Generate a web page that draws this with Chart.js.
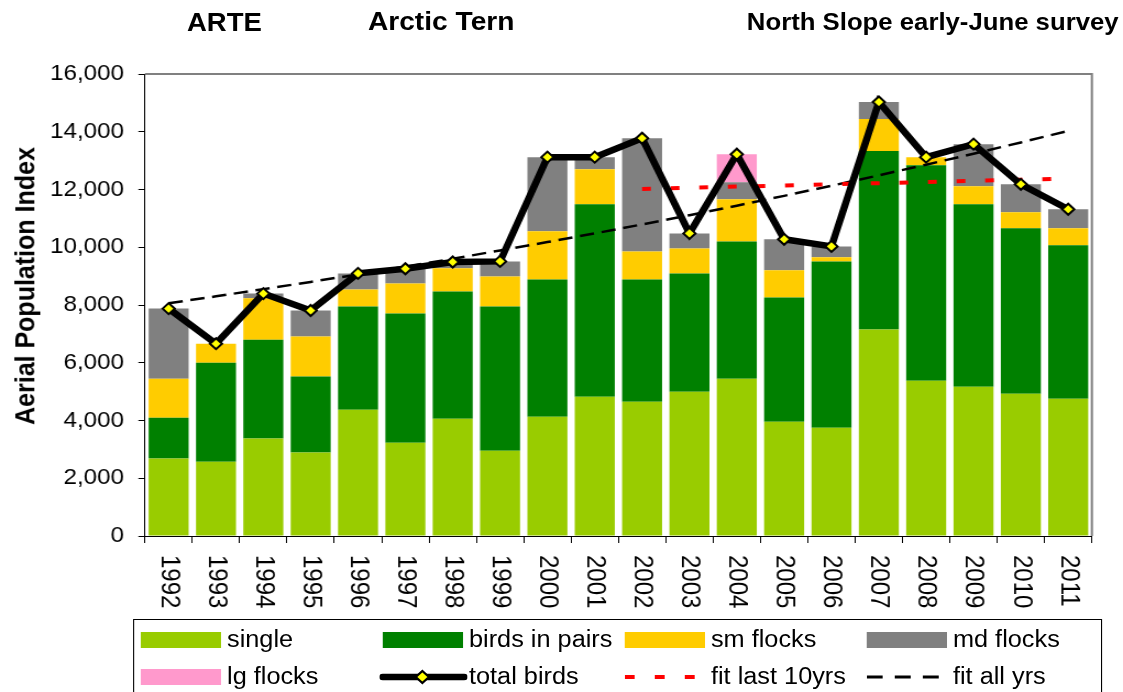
<!DOCTYPE html>
<html><head><meta charset="utf-8">
<script src="https://cdn.jsdelivr.net/npm/chart.js@4.4.1/dist/chart.umd.min.js"></script>
<style>
html,body{margin:0;padding:0;background:#fff;overflow:hidden;width:1123px;height:692px;}
#wrap{position:absolute;left:0;top:0;width:1021px;height:692px;transform-origin:0 0;transform:scaleX(1.09990);font-family:"Liberation Sans",Arial,sans-serif;color:#000;}
#c{position:absolute;left:0;top:0;}
.ttl{position:absolute;font-weight:bold;white-space:nowrap;}
#ytitle{position:absolute;left:22.7px;top:285.5px;width:0;height:0;}
#ytitle span{position:absolute;left:0;top:0;white-space:nowrap;font-weight:bold;font-size:25px;line-height:25px;transform:translate(-50%,-50%) rotate(-90deg);}
#legendBox{position:absolute;left:121.2px;top:619px;width:880.6px;height:100px;border:1px solid #000;box-sizing:border-box;}
.lgtxt{position:absolute;font-size:23px;line-height:23px;white-space:nowrap;}
.lgsw{position:absolute;width:73px;height:16px;}
</style></head>
<body>
<div id="wrap">
<canvas id="c" width="1021" height="692" style="width:1021px;height:692px"></canvas>
<div class="ttl" style="left:170px;top:9.8px;font-size:25px;line-height:25px">ARTE</div>
<div class="ttl" style="left:334.5px;top:9.4px;font-size:25.6px;line-height:25.6px">Arctic Tern</div>
<div class="ttl" style="left:679px;top:11.2px;font-size:23.4px;line-height:23.4px">North Slope early-June survey</div>
<div id="ytitle"><span>Aerial Population Index</span></div>
<div id="legendBox"></div>
<div id="legendItems"></div>
</div>
<script>
const years = ['1992','1993','1994','1995','1996','1997','1998','1999','2000','2001','2002','2003','2004','2005','2006','2007','2008','2009','2010','2011'];
const single = [2680,2570,3380,2890,4370,3230,4060,2950,4130,4820,4650,5000,5450,3960,3750,7150,5380,5170,4930,4755];
const pairs  = [1415,3430,3420,2630,3580,4475,4410,5000,4755,6670,4235,4090,4750,4300,5760,6180,7460,6320,5725,5310];
const smFlocks = [1350,660,1435,1390,590,1040,800,1040,1665,1210,970,870,1460,940,140,1110,280,625,555,590];
const mdFlocks = [2430,0,160,900,555,510,220,520,2570,420,3920,520,590,1075,380,590,0,1455,970,660];
const lgFlocks = [0,0,0,0,0,0,0,0,0,0,0,0,970,0,0,0,0,0,0,0];
const totalBirds = [7875,6660,8395,7810,9095,9255,9490,9510,13120,13120,13775,10480,13220,10275,10030,15030,13120,13570,12180,11315];
const fitLast10 = [null,null,null,null,null,null,null,null,null,null,12020,12060,12100,12140,12180,12220,12260,12300,12340,12380];
const fitAll = [8060,8300,8550,8800,9060,9330,9600,9890,10180,10480,10790,11110,11440,11780,12130,12490,12860,13240,13630,14030];
const yTicks = [0,2000,4000,6000,8000,10000,12000,14000,16000];

const FONT = '"Liberation Sans", Arial, sans-serif';
Chart.defaults.font.family = FONT;
Chart.defaults.color = '#000';

const barCommon = {barPercentage:0.845, categoryPercentage:1.0, borderWidth:0, order:5, stack:'bars'};

const plotDecor = {
  id:'plotDecor',
  afterDraw(chart){
    const {ctx, chartArea:a} = chart;
    ctx.save();
    ctx.strokeStyle = '#808080';
    ctx.lineWidth = 2;
    ctx.beginPath();
    ctx.moveTo(a.left, a.top);
    ctx.lineTo(a.right, a.top);
    ctx.lineTo(a.right, a.bottom);
    ctx.stroke();
    const xs = chart.scales.x;
    ctx.fillStyle = '#000';
    ctx.font = '24px ' + FONT;
    ctx.textAlign = 'left';
    ctx.textBaseline = 'middle';
    chart.data.labels.forEach((lab, i) => {
      const px = xs.getPixelForValue(i);
      ctx.save();
      ctx.translate(px, 555);
      ctx.rotate(Math.PI/2);
      ctx.fillText(lab, 0, 0);
      ctx.restore();
    });
    ctx.restore();
  }
};

const chart = new Chart(document.getElementById('c'), {
  type:'bar',
  data:{
    labels: years,
    datasets:[
      {type:'line', label:'total birds', data:totalBirds, borderColor:'#000', borderWidth:6.5, tension:0, fill:false,
       pointStyle:'rectRot', pointRadius:5.5, pointBackgroundColor:'#FFFF00', pointBorderColor:'#000', pointBorderWidth:2,
       order:0, stack:'total', borderJoinStyle:'miter'},
      {type:'line', label:'fit last 10yrs', data:fitLast10, borderColor:'#FF0000', borderWidth:4, borderDash:[8,18],
       pointRadius:0, fill:false, order:1, stack:'fitLast', spanGaps:true},
      {type:'line', label:'fit all yrs', data:fitAll, borderColor:'#000', borderWidth:2.5, borderDash:[13,7],
       pointRadius:0, fill:false, order:2, stack:'fitAll'},
      Object.assign({label:'single', data:single, backgroundColor:'#99CC00'}, barCommon),
      Object.assign({label:'birds in pairs', data:pairs, backgroundColor:'#008000'}, barCommon),
      Object.assign({label:'sm flocks', data:smFlocks, backgroundColor:'#FFCC00'}, barCommon),
      Object.assign({label:'md flocks', data:mdFlocks, backgroundColor:'#808080'}, barCommon),
      Object.assign({label:'lg flocks', data:lgFlocks, backgroundColor:'#FF99CC'}, barCommon)
    ]
  },
  options:{
    responsive:false, animation:false, devicePixelRatio:1,
    layout:{padding:{left:0, right:28.3, top:74, bottom:0}},
    plugins:{legend:{display:false}, tooltip:{enabled:false}, title:{display:false}},
    scales:{
      x:{
        stacked:true, offset:true,
        grid:{display:true, offset:true, drawOnChartArea:false, drawTicks:true, tickLength:7, color:'#000', lineWidth:1},
        border:{display:true, color:'#000', width:1},
        ticks:{display:false},
        afterFit(s){ s.height = 156; }
      },
      y:{
        stacked:true, min:0, max:16000,
        afterBuildTicks(s){ s.ticks = yTicks.map(v => ({value:v})); },
        ticks:{font:{size:22}, color:'#000', padding:13, callback:v => Number(v).toLocaleString('en-US')},
        grid:{display:true, drawOnChartArea:false, drawTicks:true, tickLength:6, color:'#000', lineWidth:1},
        border:{display:true, color:'#000', width:1},
        afterFit(s){ s.width = 131.8; }
      }
    }
  },
  plugins:[plotDecor]
});

// HTML legend built from the chart datasets
const legendOrder = ['single','birds in pairs','sm flocks','md flocks','lg flocks','total birds','fit last 10yrs','fit all yrs'];
const li = document.getElementById('legendItems');
legendOrder.forEach((name, i) => {
  const ds = chart.data.datasets.find(d => d.label === name);
  const col = i % 4, row = Math.floor(i / 4);
  const sx = 128.2 + col * 220, sy = 632 + row * 37;
  const sw = document.createElement('div');
  sw.className = 'lgsw';
  sw.style.left = sx + 'px'; sw.style.top = sy + 'px';
  if (!ds.type || ds.type === 'bar') {
    sw.style.background = ds.backgroundColor;
  } else if (name === 'total birds') {
    sw.style.left = (sx - 3) + 'px'; sw.style.width = '80px';
    sw.innerHTML = '<svg width="80" height="16"><line x1="3" y1="8" x2="77" y2="8" stroke="#000" stroke-width="6.5" stroke-linecap="round"/>' +
      '<polygon points="33,8 39,2 45,8 39,14" fill="#FFFF00" stroke="#000" stroke-width="2"/></svg>';
  } else if (name === 'fit last 10yrs') {
    sw.innerHTML = '<svg width="73" height="16"><line x1="0" y1="8" x2="64" y2="8" stroke="#FF0000" stroke-width="4" stroke-dasharray="9 18.3"/></svg>';
  } else {
    sw.innerHTML = '<svg width="73" height="16"><line x1="0" y1="8" x2="67" y2="8" stroke="#000" stroke-width="3" stroke-dasharray="14.5 11"/></svg>';
  }
  li.appendChild(sw);
  const tx = document.createElement('div');
  tx.className = 'lgtxt';
  tx.textContent = name;
  tx.style.left = (sx + 78.2) + 'px';
  tx.style.top = (628 + row * 37) + 'px';
  li.appendChild(tx);
});
</script>
</body></html>
